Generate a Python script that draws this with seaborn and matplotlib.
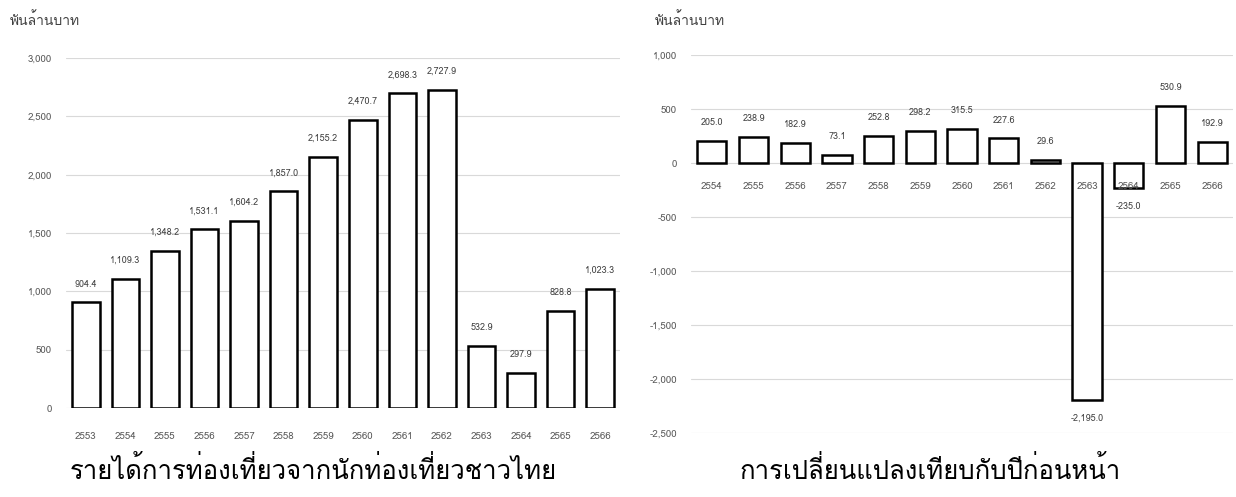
import matplotlib
matplotlib.use("Agg")
import matplotlib.pyplot as plt
import seaborn as sns
import pandas as pd
from matplotlib import font_manager as fm
from matplotlib.ft2font import FT2Font

# ---------------- data ----------------
years_income = ["2553", "2554", "2555", "2556", "2557", "2558", "2559",
                "2560", "2561", "2562", "2563", "2564", "2565", "2566"]
income = [904.4, 1109.3, 1348.2, 1531.1, 1604.2, 1857.0, 2155.2,
          2470.7, 2698.3, 2727.9, 532.9, 297.9, 828.8, 1023.3]

years_change = ["2554", "2555", "2556", "2557", "2558", "2559", "2560",
                "2561", "2562", "2563", "2564", "2565", "2566"]
change = [205.0, 238.9, 182.9, 73.1, 252.8, 298.2, 315.5,
          227.6, 29.6, -2195.0, -235.0, 530.9, 192.9]

left_ticks = [0, 500, 1000, 1500, 2000, 2500, 3000]
right_ticks = [-2500, -2000, -1500, -1000, -500, 0, 500, 1000]

unit_label = "พันล้านบาท"
title_left = "รายได้การท่องเที่ยวจากนักท่องเที่ยวชาวไทย"
title_right = "การเปลี่ยนแปลงเทียบกับปีก่อนหน้า"

# ---------------- fonts ----------------
sns.set_theme(style="white")
thai_font = None
for f in fm.fontManager.ttflist:
    try:
        ft = FT2Font(f.fname)
        if ft.get_char_index(0x0E01) and ft.get_char_index(0x0E49):
            thai_font = f.name
            break
    except Exception:
        pass
families = ([thai_font] if thai_font else []) + ["DejaVu Sans"]
plt.rcParams["font.family"] = families

fig = plt.figure(figsize=(12.36, 4.97), dpi=100)
W, H = 1236, 497


def axes_px(x0, y0, x1, y1):
    return fig.add_axes([x0 / W, 1 - y1 / H, (x1 - x0) / W, (y1 - y0) / H])


grid_c = "#d9d9d9"
tick_c = "#595959"

# ---------------- left chart ----------------
axL = axes_px(66, 58, 620, 408)
dfL = pd.DataFrame({"year": years_income, "value": income})
sns.barplot(data=dfL, x="year", y="value", ax=axL, color="white",
            edgecolor="black", linewidth=1.8, width=0.7, saturation=1)
axL.set_ylim(0, 3000)
axL.set_xlim(-0.5, len(years_income) - 0.5)
axL.set_yticks(left_ticks)
axL.set_yticklabels([f"{t:,}" for t in left_ticks], fontsize=7, color=tick_c)
axL.tick_params(axis="y", length=0, pad=10)
axL.tick_params(axis="x", length=0, pad=17, labelsize=7, labelcolor=tick_c)
axL.grid(axis="y", color=grid_c, linewidth=0.8)
axL.set_axisbelow(True)
for s in axL.spines.values():
    s.set_visible(False)
axL.set_xlabel("")
axL.set_ylabel("")
axL.bar_label(axL.containers[0], labels=[f"{v:,.1f}" for v in income],
              padding=10, fontsize=6.5, color="#404040")
fig.text(10 / W, 1 - 20 / H, unit_label, fontsize=10, color="#404040",
         va="center", ha="left")
fig.text(313 / W, 1 - 470 / H, title_left, fontsize=18.5, color="black",
         va="center", ha="center")

# ---------------- right chart ----------------
axR = axes_px(691, 55, 1233, 433)
dfR = pd.DataFrame({"year": years_change, "value": change})
sns.barplot(data=dfR, x="year", y="value", ax=axR, color="white",
            edgecolor="black", linewidth=1.8, width=0.7, saturation=1)
axR.set_ylim(-2500, 1000)
axR.set_xlim(-0.5, len(years_change) - 0.5)
axR.set_yticks(right_ticks)
axR.set_yticklabels([f"{t:,}" for t in right_ticks], fontsize=7, color=tick_c)
axR.tick_params(axis="y", length=0, pad=10)
axR.set_xticks([])
axR.grid(axis="y", color=grid_c, linewidth=0.8)
axR.set_axisbelow(True)
for s in axR.spines.values():
    s.set_visible(False)
axR.set_xlabel("")
axR.set_ylabel("")
for i, y in enumerate(years_change):
    axR.annotate(y, (i, 0), xytext=(0, -17), textcoords="offset points",
                 ha="center", va="center", fontsize=7, color=tick_c)
axR.bar_label(axR.containers[0], labels=[f"{v:,.1f}" for v in change],
              padding=10, fontsize=6.5, color="#404040")
fig.text(655 / W, 1 - 20 / H, unit_label, fontsize=10, color="#404040",
         va="center", ha="left")
fig.text(930 / W, 1 - 470 / H, title_right, fontsize=18.5, color="black",
         va="center", ha="center")

fig.savefig("out.png", dpi=100, facecolor="white")
